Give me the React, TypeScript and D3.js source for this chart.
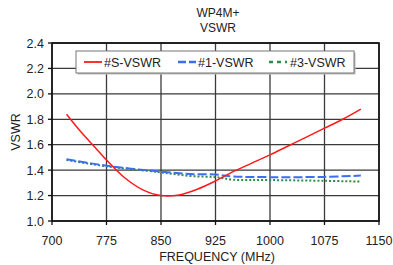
import React from 'react';
import * as d3 from 'd3';

const W = 393;
const H = 265;

const xTicks = [700, 775, 850, 925, 1000, 1075, 1150];
const yTicks = [1.0, 1.2, 1.4, 1.6, 1.8, 2.0, 2.2, 2.4];

const freqS = [720, 740, 760, 775, 800, 825, 850, 875, 900, 925, 950, 975, 1000, 1025, 1050, 1075, 1100, 1125];
const vswrS = [1.84, 1.70, 1.575, 1.48, 1.34, 1.245, 1.20, 1.205, 1.25, 1.315, 1.39, 1.455, 1.52, 1.59, 1.66, 1.73, 1.80, 1.88];

const freq1 = [720, 775, 850, 890, 925, 950, 1000, 1075, 1125];
const vswr1 = [1.486, 1.435, 1.388, 1.37, 1.365, 1.35, 1.345, 1.347, 1.357];

const freq3 = [720, 775, 850, 890, 925, 950, 1000, 1075, 1125];
const vswr3 = [1.48, 1.43, 1.383, 1.354, 1.345, 1.325, 1.322, 1.316, 1.31];

const series = [
  {name: '#S-VSWR', x: freqS, y: vswrS, color: '#ff1a1a', width: 1.5, dash: undefined},
  {name: '#1-VSWR', x: freq1, y: vswr1, color: '#3a6fef', width: 2, dash: '9,3'},
  {name: '#3-VSWR', x: freq3, y: vswr3, color: '#2e8b4e', width: 2, dash: '2,2'},
];

const margin = {top: 43, right: 14, bottom: 44, left: 52};

export default function App() {
  const x = d3.scaleLinear().domain([700, 1150]).range([margin.left, W - margin.right]);
  const y = d3.scaleLinear().domain([1.0, 2.4]).range([H - margin.bottom, margin.top]);
  const font = 'Liberation Sans, Arial, sans-serif';

  const lineGen = d3.line<[number, number]>()
    .x(d => x(d[0]))
    .y(d => y(d[1]))
    .curve(d3.curveCatmullRom.alpha(0.5));

  const x0 = x(700), x1 = x(1150), y0 = y(1.0), y1 = y(2.4);
  const legX = 76, legY = 51, legW = 278, legH = 22;
  const legItems = [
    {lx: 84, tx: 104},
    {lx: 178, tx: 198},
    {lx: 269, tx: 290},
  ];

  return (
    <svg width={W} height={H} style={{position: 'absolute', left: 0, top: 0}} fontFamily={font}>
      <rect width={W} height={H} fill="#fff" />
      <text x={218} y={17} textAnchor="middle" fontSize={12} fill="#222">WP4M+</text>
      <text x={218} y={32} textAnchor="middle" fontSize={12} fill="#222">VSWR</text>

      {/* grid */}
      {yTicks.map(t => (
        <line key={'gy' + t} x1={x0} x2={x1} y1={y(t)} y2={y(t)} stroke="#3a3a3a" strokeWidth={1.3} />
      ))}
      {xTicks.map(t => (
        <line key={'gx' + t} x1={x(t)} x2={x(t)} y1={y1} y2={y0} stroke="#3a3a3a" strokeWidth={1.3} />
      ))}
      <rect x={x0} y={y1} width={x1 - x0} height={y0 - y1} fill="none" stroke="#111" strokeWidth={1.6} />

      {/* ticks */}
      {yTicks.map(t => (
        <g key={'ty' + t}>
          <line x1={x0 - 4} x2={x0} y1={y(t)} y2={y(t)} stroke="#111" strokeWidth={1.3} />
          <text x={x0 - 8} y={y(t) + 4.5} textAnchor="end" fontSize={12.5} fill="#222">{t.toFixed(1)}</text>
        </g>
      ))}
      {xTicks.map(t => (
        <g key={'tx' + t}>
          <line x1={x(t)} x2={x(t)} y1={y0} y2={y0 + 4} stroke="#111" strokeWidth={1.3} />
          <text x={x(t)} y={y0 + 24} textAnchor="middle" fontSize={12.5} fill="#222">{t}</text>
        </g>
      ))}

      <text x={217} y={261} textAnchor="middle" fontSize={12.5} fill="#222">FREQUENCY (MHz)</text>
      <text transform={`translate(20,${(y0 + y1) / 2}) rotate(-90)`} textAnchor="middle" fontSize={12.5} fill="#222">VSWR</text>

      {/* series */}
      {series.slice().reverse().map(s => (
        <path key={s.name} d={lineGen(s.x.map((v, i) => [v, s.y[i]] as [number, number])) || ''}
          fill="none" stroke={s.color} strokeWidth={s.width} strokeDasharray={s.dash} />
      ))}

      {/* legend */}
      <rect x={legX + 1.5} y={legY + 1.5} width={legW} height={legH} fill="#bbb" />
      <rect x={legX} y={legY} width={legW} height={legH} fill="#fff" stroke="#777" strokeWidth={1} />
      {series.map((s, i) => (
        <g key={'l' + s.name}>
          <line x1={legItems[i].lx} x2={legItems[i].lx + 18} y1={legY + 11} y2={legY + 11}
            stroke={s.color} strokeWidth={s.width + 0.3} strokeDasharray={s.dash ? (i === 2 ? '4,4' : '8,3') : undefined} />
          <text x={legItems[i].tx} y={legY + 15.5} fontSize={12.5} fill="#222">{s.name}</text>
        </g>
      ))}
    </svg>
  );
}
